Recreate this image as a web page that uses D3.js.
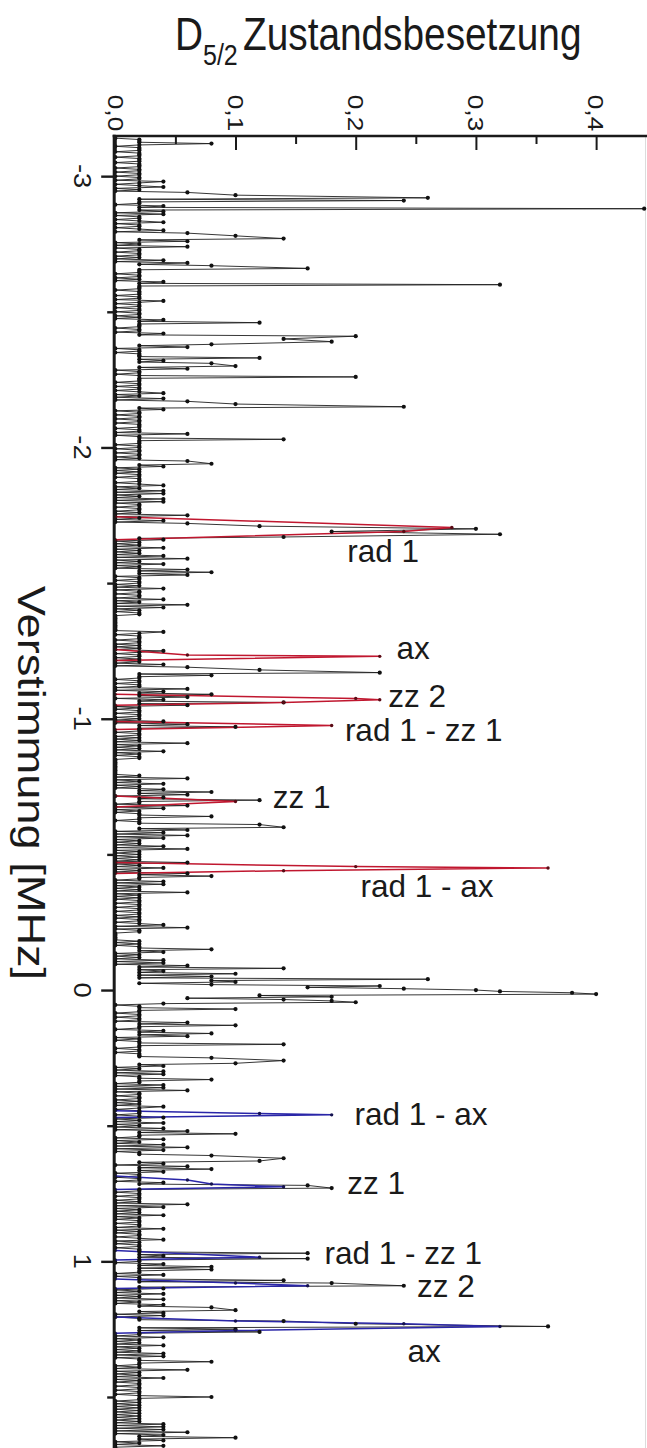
<!DOCTYPE html>
<html>
<head>
<meta charset="utf-8">
<script src="https://cdn.jsdelivr.net/npm/d3@7"></script>
<style>
  html, body { margin: 0; padding: 0; background: #fff; }
  svg { display: block; }
</style>
</head>
<body>
<svg id="chart" width="647" height="1448"></svg>
<script>
// Frequency scan of the S–D transition: [detuning in MHz, D5/2 population]
const scan = [
  [-3.14,0],[-3.135,0.02],[-3.13,0.02],[-3.125,0.02],[-3.12,0.08],[-3.115,0.02],[-3.11,0],[-3.105,0.02],
  [-3.10,0.02],[-3.095,0.02],[-3.09,0],[-3.085,0.02],[-3.08,0.02],[-3.075,0.02],[-3.07,0],[-3.065,0.02],[-3.06,0.02],[-3.055,0.02],[-3.05,0],[-3.045,0.02],[-3.04,0.02],[-3.035,0.02],[-3.03,0],[-3.025,0.02],[-3.02,0.02],[-3.015,0],[-3.01,0.02],[-3.005,0.02],
  [-3.00,0],[-2.995,0.02],[-2.99,0.02],[-2.985,0],[-2.98,0.04],[-2.975,0.02],[-2.97,0],[-2.965,0.02],[-2.96,0.04],[-2.955,0],[-2.95,0.02],[-2.945,0],[-2.94,0.06],[-2.93,0.1],[-2.92,0.26],[-2.915,0.02],[-2.91,0.24],[-2.905,0.02],
  [-2.90,0.02],[-2.895,0],[-2.89,0.04],[-2.885,0.02],[-2.88,0.44],[-2.875,0.02],[-2.87,0.04],[-2.865,0],[-2.86,0.04],[-2.855,0],[-2.85,0.02],[-2.845,0.02],[-2.84,0],[-2.835,0.02],[-2.83,0.04],[-2.825,0],[-2.82,0.02],[-2.815,0.02],[-2.81,0],[-2.805,0.02],
  [-2.80,0.04],[-2.795,0],[-2.79,0.06],[-2.78,0.1],[-2.77,0.14],[-2.765,0.02],[-2.76,0.06],[-2.755,0],[-2.75,0.02],[-2.745,0],[-2.74,0.06],[-2.735,0],[-2.73,0.02],[-2.725,0.02],[-2.72,0],[-2.715,0.02],[-2.71,0.02],[-2.705,0],
  [-2.70,0.02],[-2.695,0],[-2.69,0.04],[-2.685,0],[-2.68,0.06],[-2.675,0.02],[-2.67,0.08],[-2.66,0.16],[-2.655,0.02],[-2.65,0.02],[-2.645,0.02],[-2.64,0],[-2.635,0.02],[-2.63,0.02],[-2.625,0],[-2.62,0.02],[-2.615,0],[-2.61,0.04],[-2.605,0.02],
  [-2.60,0.32],[-2.595,0.02],[-2.59,0.02],[-2.585,0.02],[-2.58,0],[-2.575,0.02],[-2.57,0.02],[-2.565,0.02],[-2.56,0],[-2.555,0.02],[-2.55,0.02],[-2.545,0],[-2.54,0.04],[-2.535,0.02],[-2.53,0],[-2.525,0.02],[-2.52,0.02],[-2.515,0],[-2.51,0.02],[-2.505,0.02],
  [-2.50,0],[-2.495,0.02],[-2.49,0.02],[-2.485,0],[-2.48,0.02],[-2.475,0],[-2.47,0.04],[-2.465,0.02],[-2.46,0.12],[-2.455,0.02],[-2.45,0.02],[-2.445,0.02],[-2.44,0],[-2.435,0.02],[-2.43,0.02],[-2.425,0],[-2.42,0.04],[-2.415,0.02],[-2.41,0.2],
  [-2.40,0.14],[-2.39,0.18],[-2.38,0.08],[-2.375,0.02],[-2.37,0.06],[-2.365,0],[-2.36,0.02],[-2.355,0.02],[-2.35,0],[-2.345,0.02],[-2.34,0.02],[-2.335,0.02],[-2.33,0.12],[-2.325,0.02],[-2.32,0.04],[-2.315,0.02],[-2.31,0.08],
  [-2.30,0.1],[-2.295,0.02],[-2.29,0.06],[-2.285,0],[-2.28,0.02],[-2.275,0.02],[-2.27,0],[-2.265,0.02],[-2.26,0.2],[-2.255,0.02],[-2.25,0.02],[-2.245,0.02],[-2.24,0],[-2.235,0.02],[-2.23,0.02],[-2.225,0],[-2.22,0.02],[-2.215,0.02],[-2.21,0],[-2.205,0.02],
  [-2.20,0.04],[-2.195,0],[-2.19,0.02],[-2.185,0],[-2.18,0.04],[-2.175,0],[-2.17,0.06],[-2.16,0.1],[-2.15,0.24],[-2.145,0.02],[-2.14,0.04],[-2.135,0],[-2.13,0.02],[-2.125,0.02],[-2.12,0],[-2.115,0.02],[-2.11,0.02],[-2.105,0],
  [-2.10,0.02],[-2.095,0.02],[-2.09,0],[-2.085,0.02],[-2.08,0.02],[-2.075,0.02],[-2.07,0],[-2.065,0.02],[-2.06,0.02],[-2.055,0],[-2.05,0.06],[-2.045,0],[-2.04,0.02],[-2.035,0.02],[-2.03,0.14],[-2.025,0.02],[-2.02,0.02],[-2.015,0.02],[-2.01,0],[-2.005,0.02],
  [-2.00,0.02],[-1.995,0],[-1.99,0.02],[-1.985,0.02],[-1.98,0],[-1.975,0.02],[-1.97,0.02],[-1.965,0],[-1.96,0.02],[-1.955,0],[-1.95,0.06],[-1.94,0.08],[-1.935,0.02],[-1.93,0.04],[-1.925,0],[-1.92,0.02],[-1.915,0],[-1.91,0.02],[-1.905,0],
  [-1.90,0.02],[-1.895,0.02],[-1.89,0],[-1.885,0.02],[-1.88,0.02],[-1.875,0.02],[-1.87,0],[-1.865,0.02],[-1.86,0.04],[-1.855,0],[-1.85,0.02],[-1.845,0],[-1.84,0.04],[-1.835,0],[-1.83,0.04],[-1.825,0],[-1.82,0.02],[-1.815,0],[-1.81,0.04],[-1.805,0],
  [-1.80,0.04],[-1.795,0],[-1.79,0.02],[-1.785,0.02],[-1.78,0],[-1.775,0.02],[-1.77,0.02],[-1.765,0],[-1.76,0.02],[-1.755,0],[-1.75,0.06],[-1.745,0],[-1.74,0.02],[-1.735,0],[-1.73,0.04],[-1.725,0],[-1.72,0.06],[-1.71,0.12],
  [-1.70,0.3],[-1.69,0.18],[-1.68,0.32],[-1.67,0.14],[-1.665,0.02],[-1.66,0.04],[-1.655,0],[-1.65,0.02],[-1.645,0],[-1.64,0.02],[-1.635,0],[-1.63,0.04],[-1.625,0],[-1.62,0.02],[-1.615,0],[-1.61,0.02],[-1.605,0],
  [-1.60,0.04],[-1.595,0],[-1.59,0.06],[-1.585,0],[-1.58,0.02],[-1.575,0],[-1.57,0.04],[-1.565,0],[-1.56,0.02],[-1.555,0],[-1.55,0.06],[-1.545,0.02],[-1.54,0.08],[-1.535,0.02],[-1.53,0.06],[-1.525,0],[-1.52,0.02],[-1.515,0.02],[-1.51,0],[-1.505,0.02],
  [-1.50,0.02],[-1.495,0],[-1.49,0.02],[-1.485,0],[-1.48,0.04],[-1.475,0],[-1.47,0.02],[-1.465,0.02],[-1.46,0],[-1.455,0.02],[-1.45,0.02],[-1.445,0],[-1.44,0.04],[-1.435,0],[-1.43,0.02],[-1.425,0],[-1.42,0.06],[-1.415,0],[-1.41,0.04],[-1.405,0],
  [-1.40,0.02],[-1.395,0],[-1.39,0.02],[-1.385,0.02],[-1.38,0],[-1.375,0],[-1.37,0],[-1.365,0],[-1.36,0],[-1.355,0],[-1.35,0],[-1.345,0],[-1.34,0],[-1.335,0],[-1.33,0],[-1.325,0],[-1.32,0.04],[-1.315,0.02],[-1.31,0],[-1.305,0.02],
  [-1.30,0.02],[-1.295,0.02],[-1.29,0],[-1.285,0.02],[-1.28,0.02],[-1.275,0],[-1.27,0.02],[-1.265,0],[-1.26,0.02],[-1.255,0],[-1.25,0.04],[-1.245,0.02],[-1.24,0],[-1.235,0.02],[-1.23,0.02],[-1.225,0],[-1.22,0.02],[-1.215,0],[-1.21,0.02],[-1.205,0],
  [-1.20,0.04],[-1.195,0],[-1.19,0.06],[-1.18,0.12],[-1.17,0.22],[-1.165,0.02],[-1.16,0.08],[-1.155,0.02],[-1.15,0.02],[-1.145,0],[-1.14,0.02],[-1.135,0.02],[-1.13,0],[-1.125,0.02],[-1.12,0.02],[-1.115,0],[-1.11,0.06],[-1.105,0],
  [-1.10,0.04],[-1.095,0.02],[-1.09,0.08],[-1.085,0.02],[-1.08,0.06],[-1.075,0],[-1.07,0.04],[-1.065,0.02],[-1.06,0.14],[-1.055,0.02],[-1.05,0.06],[-1.045,0],[-1.04,0.02],[-1.035,0],[-1.03,0.02],[-1.025,0.02],[-1.02,0],[-1.015,0.02],[-1.01,0.02],[-1.005,0],
  [-1.00,0.02],[-0.995,0],[-0.99,0.04],[-0.985,0],[-0.98,0.06],[-0.975,0.02],[-0.97,0.1],[-0.965,0.02],[-0.96,0.02],[-0.955,0.02],[-0.95,0],[-0.945,0.02],[-0.94,0.02],[-0.935,0],[-0.93,0.02],[-0.925,0],[-0.92,0.02],[-0.915,0],[-0.91,0.06],[-0.905,0],
  [-0.90,0.02],[-0.895,0],[-0.89,0.02],[-0.885,0],[-0.88,0.04],[-0.875,0],[-0.87,0.02],[-0.865,0],[-0.86,0.02],[-0.855,0.02],[-0.85,0],[-0.845,0],[-0.84,0],[-0.835,0],[-0.83,0],[-0.825,0],[-0.82,0],[-0.815,0],[-0.81,0],[-0.805,0],
  [-0.80,0],[-0.795,0],[-0.79,0.02],[-0.785,0],[-0.78,0.06],[-0.775,0],[-0.77,0.02],[-0.765,0],[-0.76,0.04],[-0.755,0],[-0.75,0.02],[-0.745,0],[-0.74,0.04],[-0.735,0.02],[-0.73,0.08],[-0.725,0.02],[-0.72,0.06],[-0.715,0],[-0.71,0.04],[-0.705,0.02],
  [-0.70,0.12],[-0.695,0.02],[-0.69,0.02],[-0.685,0],[-0.68,0.06],[-0.675,0],[-0.67,0.04],[-0.665,0],[-0.66,0.02],[-0.655,0],[-0.65,0.02],[-0.645,0.02],[-0.64,0.08],[-0.635,0.02],[-0.63,0.02],[-0.625,0],[-0.62,0.02],[-0.615,0.02],[-0.61,0.12],
  [-0.60,0.14],[-0.595,0.02],[-0.59,0.06],[-0.585,0],[-0.58,0.04],[-0.575,0],[-0.57,0.06],[-0.565,0],[-0.56,0.04],[-0.555,0],[-0.55,0.02],[-0.545,0],[-0.54,0.02],[-0.535,0],[-0.53,0.04],[-0.525,0],[-0.52,0.06],[-0.515,0],[-0.51,0.02],[-0.505,0],
  [-0.50,0.02],[-0.495,0],[-0.49,0.02],[-0.485,0],[-0.48,0.02],[-0.475,0],[-0.47,0.06],[-0.465,0],[-0.46,0.02],[-0.455,0],[-0.45,0.04],[-0.445,0],[-0.44,0.02],[-0.435,0],[-0.43,0.06],[-0.425,0.02],[-0.42,0.08],[-0.415,0.02],[-0.41,0.02],[-0.405,0],
  [-0.40,0.04],[-0.395,0],[-0.39,0.04],[-0.385,0],[-0.38,0.02],[-0.375,0],[-0.37,0.02],[-0.365,0],[-0.36,0.06],[-0.355,0],[-0.35,0.02],[-0.345,0],[-0.34,0.02],[-0.335,0],[-0.33,0.02],[-0.325,0.02],[-0.32,0],[-0.315,0.02],[-0.31,0.02],[-0.305,0],
  [-0.30,0.02],[-0.295,0.02],[-0.29,0],[-0.285,0.02],[-0.28,0.02],[-0.275,0],[-0.27,0.02],[-0.265,0],[-0.26,0.02],[-0.255,0.02],[-0.25,0],[-0.245,0.02],[-0.24,0.04],[-0.235,0],[-0.23,0.06],[-0.225,0],[-0.22,0.02],[-0.215,0.02],[-0.21,0],[-0.205,0],
  [-0.20,0],[-0.195,0],[-0.19,0],[-0.185,0],[-0.18,0.02],[-0.175,0],[-0.17,0.02],[-0.165,0],[-0.16,0.02],[-0.155,0.02],[-0.15,0.08],[-0.145,0.02],[-0.14,0.04],[-0.135,0],[-0.13,0.02],[-0.125,0],[-0.12,0.02],[-0.115,0],[-0.11,0.04],[-0.105,0],
  [-0.10,0.04],[-0.095,0],[-0.09,0.06],[-0.085,0.02],[-0.08,0.14],[-0.075,0.02],[-0.07,0.04],[-0.065,0.02],[-0.06,0.1],[-0.055,0.02],[-0.05,0.08],[-0.045,0.02],
  [-0.04,0.26],[-0.035,0.08],[-0.03,0.1],[-0.025,0.02],[-0.02,0.08],[-0.015,0.22],[-0.01,0.16],[-0.005,0.24],[0,0.3],[0.005,0.32],
  [0.01,0.38],[0.015,0.4],[0.02,0.12],[0.025,0.18],[0.03,0.06],[0.035,0.14],[0.04,0.18],[0.045,0.2],
  [0.05,0.04],[0.055,0],[0.06,0.02],[0.065,0.02],[0.07,0.1],[0.075,0.02],[0.08,0.02],[0.085,0],[0.09,0.02],[0.095,0.02],[0.10,0],[0.105,0.02],[0.11,0.02],[0.115,0],[0.12,0.06],[0.125,0.02],[0.13,0.1],[0.135,0.02],[0.14,0.02],[0.145,0],
  [0.15,0.04],[0.155,0.02],[0.16,0.08],[0.165,0.02],[0.17,0.06],[0.175,0],[0.18,0.02],[0.185,0],[0.19,0.02],[0.195,0.02],[0.20,0.14],[0.205,0.02],[0.21,0.02],[0.215,0],[0.22,0.02],[0.225,0.02],[0.23,0],[0.235,0.02],[0.24,0.02],[0.245,0.02],
  [0.25,0.08],[0.26,0.14],[0.27,0.1],[0.275,0.02],[0.28,0.04],[0.285,0],[0.29,0.02],[0.295,0],[0.30,0.04],[0.305,0],[0.31,0.04],[0.315,0],[0.32,0.02],[0.325,0.02],[0.33,0.08],[0.335,0.02],[0.34,0.02],[0.345,0],
  [0.35,0.04],[0.355,0],[0.36,0.04],[0.365,0],[0.37,0.06],[0.375,0],[0.38,0.02],[0.385,0.02],[0.39,0],[0.395,0.02],[0.40,0.02],[0.405,0],[0.41,0.02],[0.415,0],[0.42,0.02],[0.425,0],[0.43,0.04],[0.435,0.02],[0.44,0],[0.445,0.02],
  [0.45,0.02],[0.455,0.02],[0.46,0],[0.465,0.02],[0.47,0.04],[0.475,0],[0.48,0.02],[0.485,0],[0.49,0.04],[0.495,0],[0.50,0.02],[0.505,0],[0.51,0.04],[0.515,0],[0.52,0.06],[0.525,0.02],[0.53,0.1],[0.535,0.02],[0.54,0.02],[0.545,0],
  [0.55,0.04],[0.555,0],[0.56,0.02],[0.565,0],[0.57,0.04],[0.575,0],[0.58,0.06],[0.585,0],[0.59,0.04],[0.595,0],[0.60,0.02],[0.605,0.02],[0.61,0.08],[0.62,0.14],[0.63,0.12],[0.635,0.02],[0.64,0.04],[0.645,0],
  [0.65,0.06],[0.655,0.02],[0.66,0.08],[0.665,0.02],[0.67,0.04],[0.675,0],[0.68,0.02],[0.685,0.02],[0.69,0],[0.695,0.02],[0.70,0.02],[0.705,0],[0.71,0.04],[0.715,0.02],[0.72,0.16],[0.73,0.18],[0.735,0.02],[0.74,0.02],[0.745,0],
  [0.75,0.02],[0.755,0.02],[0.76,0],[0.765,0.02],[0.77,0.02],[0.775,0],[0.78,0.02],[0.785,0],[0.79,0.06],[0.795,0],[0.80,0.04],[0.805,0],[0.81,0.02],[0.815,0],[0.82,0.02],[0.825,0],[0.83,0.04],[0.835,0],[0.84,0.02],[0.845,0],
  [0.85,0.02],[0.855,0.02],[0.86,0],[0.865,0.02],[0.87,0.02],[0.875,0],[0.88,0.04],[0.885,0],[0.89,0.02],[0.895,0],[0.90,0.02],[0.905,0.02],[0.91,0],[0.915,0.02],[0.92,0.04],[0.925,0],[0.93,0.02],[0.935,0],[0.94,0.02],[0.945,0.02],
  [0.95,0],[0.955,0.02],[0.96,0.02],[0.965,0.02],[0.97,0.16],[0.975,0.02],[0.98,0.04],[0.985,0.02],[0.99,0.16],[0.995,0.02],[1.00,0.02],[1.005,0],[1.01,0.04],[1.015,0.02],[1.02,0.08],[1.025,0.02],[1.03,0.08],[1.035,0.02],[1.04,0.02],[1.045,0],
  [1.05,0.04],[1.055,0],[1.06,0.02],[1.065,0.02],[1.07,0.14],[1.075,0.02],[1.08,0.18],[1.09,0.24],[1.095,0.02],[1.10,0.04],[1.105,0],[1.11,0.02],[1.115,0],[1.12,0.04],[1.125,0],[1.13,0.02],[1.135,0],[1.14,0.04],[1.145,0],
  [1.15,0.02],[1.155,0],[1.16,0.04],[1.165,0.02],[1.17,0.08],[1.18,0.1],[1.185,0.02],[1.19,0.04],[1.195,0],[1.20,0.04],[1.205,0],[1.21,0.02],[1.215,0.02],[1.22,0.14],[1.23,0.2],[1.24,0.36],[1.245,0.02],
  [1.25,0.1],[1.255,0.02],[1.26,0.12],[1.265,0.02],[1.27,0.02],[1.275,0],[1.28,0.04],[1.285,0],[1.29,0.02],[1.295,0],[1.30,0.02],[1.305,0],[1.31,0.04],[1.315,0],[1.32,0.02],[1.325,0],[1.33,0.02],[1.335,0],[1.34,0.04],[1.345,0],
  [1.35,0.04],[1.355,0],[1.36,0.02],[1.365,0.02],[1.37,0.08],[1.375,0.02],[1.38,0.02],[1.385,0],[1.39,0.02],[1.395,0],[1.40,0.06],[1.405,0],[1.41,0.02],[1.415,0],[1.42,0.02],[1.425,0],[1.43,0.04],[1.435,0],[1.44,0.02],[1.445,0],
  [1.45,0.02],[1.455,0.02],[1.46,0],[1.465,0.02],[1.47,0.02],[1.475,0],[1.48,0.02],[1.485,0.02],[1.49,0],[1.495,0.02],[1.50,0.08],[1.505,0.02],[1.51,0.02],[1.515,0],[1.52,0.02],[1.525,0],[1.53,0.02],[1.535,0],[1.54,0.02],[1.545,0],
  [1.55,0.02],[1.555,0],[1.56,0.02],[1.565,0],[1.57,0.02],[1.575,0],[1.58,0.02],[1.585,0],[1.59,0.02],[1.595,0],[1.60,0.04],[1.605,0],[1.61,0.04],[1.615,0],[1.62,0.04],[1.625,0],[1.63,0.06],[1.635,0],[1.64,0.04],[1.645,0.02],
  [1.65,0.1],[1.655,0.02],[1.66,0.04],[1.665,0],[1.67,0.02],[1.675,0],[1.68,0.04],[1.685,0]
];

// Fine scans over the red sideband resonances
const redScans = [
  [[-1.745,0],[-1.705,0.28],[-1.69,0.24],[-1.66,0]],
  [[-1.255,0],[-1.235,0.06],[-1.23,0.22],[-1.215,0]],
  [[-1.09,0],[-1.075,0.2],[-1.07,0.22],[-1.06,0.14],[-1.05,0]],
  [[-0.99,0],[-0.975,0.18],[-0.96,0]],
  [[-0.715,0],[-0.695,0.1],[-0.675,0]],
  [[-0.47,0],[-0.455,0.2],[-0.45,0.36],[-0.44,0.14],[-0.43,0]]
];

// Fine scans over the blue sideband resonances
const blueScans = [
  [[0.445,0],[0.455,0.12],[0.46,0.18],[0.47,0]],
  [[0.685,0],[0.70,0.06],[0.715,0.08],[0.725,0.14],[0.735,0]],
  [[0.96,0],[0.985,0.12],[0.995,0]],
  [[1.065,0],[1.08,0.1],[1.09,0.16],[1.10,0]],
  [[1.205,0],[1.22,0.1],[1.23,0.24],[1.24,0.32],[1.255,0.1],[1.265,0]]
];

// Sideband names, anchored at [detuning of baseline, population of left edge]
const sidebandNames = ["rad 1", "ax", "zz 2", "rad 1 - zz 1", "zz 1", "rad 1 - ax",
                       "rad 1 - ax", "zz 1", "rad 1 - zz 1", "zz 2", "ax"];
const sidebandAnchors = [[-1.578,0.193],[-1.220,0.234],[-1.043,0.227],[-0.918,0.191],[-0.671,0.131],[-0.343,0.204],
                         [0.498,0.199],[0.752,0.193],[1.010,0.174],[1.132,0.251],[1.371,0.243]];

const populationTicks = [0, 0.1, 0.2, 0.3, 0.4];
const populationMinorTicks = [0.05, 0.15, 0.25, 0.35];
const detuningTicks = [-3, -2, -1, 0, 1];
const detuningMinorTicks = [-2.5, -1.5, -0.5, 0.5, 1.5];

const svg = d3.select("#chart");
const font = "'Liberation Sans', Arial, Helvetica, sans-serif";
const ink = "#1a1a1a";
const stretch = 1.19;          // lettering is drawn slightly tall, as in the printed figure

// Detuning runs down the page, population to the right
const y = d3.scaleLinear().domain([-3.148, 1.688]).range([136, 1448]);
const x = d3.scaleLinear().domain([0, 0.442]).range([115.3, 646.6]);

const locale = d3.formatLocale({decimal: ",", thousands: ".", grouping: [3], currency: ["", " €"], minus: "-"});
const fmtPop = locale.format(".1f");
const fmtDet = locale.format("d");

svg.append("rect").attr("width", 647).attr("height", 1448).attr("fill", "#fff");

// faint right edge of the plot box
svg.append("line")
  .attr("x1", 645.5).attr("x2", 645.5).attr("y1", y.range()[0]).attr("y2", y.range()[1])
  .attr("stroke", "#dcdcdc").attr("stroke-width", 1);

const line = d3.line().x(d => x(d[1])).y(d => y(d[0]));

// main scan
svg.append("path").datum(scan)
  .attr("d", line).attr("fill", "none")
  .attr("stroke", "#202020").attr("stroke-width", 0.9).attr("stroke-linejoin", "round");

// sideband fine scans
svg.append("g").selectAll("path").data(redScans).join("path")
  .attr("d", line).attr("fill", "none")
  .attr("stroke", "#c0172f").attr("stroke-width", 1.5).attr("stroke-linejoin", "round");
svg.append("g").selectAll("path").data(blueScans).join("path")
  .attr("d", line).attr("fill", "none")
  .attr("stroke", "#2a26a8").attr("stroke-width", 1.5).attr("stroke-linejoin", "round");

// markers
svg.append("g").selectAll("circle").data(scan).join("circle")
  .attr("cx", d => x(d[1])).attr("cy", d => y(d[0])).attr("r", 2.1).attr("fill", "#111");
svg.append("g").selectAll("circle").data(redScans.flat()).join("circle")
  .attr("cx", d => x(d[1])).attr("cy", d => y(d[0])).attr("r", 1.7).attr("fill", "#5a0a14");
svg.append("g").selectAll("circle").data(blueScans.flat()).join("circle")
  .attr("cx", d => x(d[1])).attr("cy", d => y(d[0])).attr("r", 1.7).attr("fill", "#14124f");

// top axis (population), ticks pointing into the plot
const topY = y.range()[0];
svg.append("g").attr("transform", `translate(0,${topY})`)
  .call(d3.axisTop(x).tickValues(populationTicks).tickSizeInner(-14).tickSizeOuter(0).tickFormat(""))
  .call(g => g.select(".domain").remove())
  .call(g => g.selectAll(".tick line").attr("stroke", ink).attr("stroke-width", 2));
svg.append("g").attr("transform", `translate(0,${topY})`)
  .call(d3.axisTop(x).tickValues(populationMinorTicks).tickSizeInner(-8).tickSizeOuter(0).tickFormat(""))
  .call(g => g.select(".domain").remove())
  .call(g => g.selectAll(".tick line").attr("stroke", ink).attr("stroke-width", 2));

// left axis (detuning), ticks pointing outward
const leftX = 114.2;
svg.append("g").attr("transform", `translate(${leftX},0)`)
  .call(d3.axisLeft(y).tickValues(detuningTicks).tickSizeInner(13).tickSizeOuter(0).tickFormat(""))
  .call(g => g.select(".domain").remove())
  .call(g => g.selectAll(".tick line").attr("stroke", ink).attr("stroke-width", 2.4));
svg.append("g").attr("transform", `translate(${leftX},0)`)
  .call(d3.axisLeft(y).tickValues(detuningMinorTicks).tickSizeInner(7).tickSizeOuter(0).tickFormat(""))
  .call(g => g.select(".domain").remove())
  .call(g => g.selectAll(".tick line").attr("stroke", ink).attr("stroke-width", 2.4));

// spines
svg.append("line").attr("x1", leftX - 1.5).attr("x2", 647).attr("y1", topY).attr("y2", topY)
  .attr("stroke", ink).attr("stroke-width", 2.6);
svg.append("line").attr("x1", leftX).attr("x2", leftX).attr("y1", topY - 1.3).attr("y2", y.range()[1])
  .attr("stroke", ink).attr("stroke-width", 3);

// tick labels, turned a quarter clockwise
svg.append("g").selectAll("text").data(populationTicks).join("text")
  .attr("transform", d => `translate(${x(d)},113) scale(1,${stretch}) rotate(90)`)
  .attr("text-anchor", "middle").attr("dy", "0.35em")
  .attr("font-family", font).attr("font-size", 22).attr("fill", ink)
  .text(fmtPop);
svg.append("g").selectAll("text").data(detuningTicks).join("text")
  .attr("transform", d => `translate(82,${y(d)}) scale(1,${stretch}) rotate(90)`)
  .attr("text-anchor", "middle").attr("dy", "0.35em")
  .attr("font-family", font).attr("font-size", 23).attr("fill", ink)
  .text(fmtDet);

// axis titles
const title = svg.append("text")
  .attr("transform", `translate(0,50) scale(1,${stretch})`)
  .attr("font-family", font).attr("font-size", 38.8).attr("fill", ink);
title.append("tspan").attr("x", 175).text("D");
title.append("tspan").attr("font-size", 25).attr("dy", 12.6).text("5/2");
title.append("tspan").attr("x", 243).attr("dy", -12.6).text("Zustandsbesetzung");

svg.append("text")
  .attr("transform", `translate(31,783) scale(1,${stretch}) rotate(90)`)
  .attr("text-anchor", "middle").attr("dy", "0.35em")
  .attr("font-family", font).attr("font-size", 38).attr("fill", ink)
  .text("Verstimmung [MHz]");

// sideband names
svg.append("g").selectAll("text").data(sidebandNames).join("text")
  .attr("x", (d, i) => x(sidebandAnchors[i][1]))
  .attr("y", (d, i) => y(sidebandAnchors[i][0]))
  .attr("font-family", font).attr("font-size", 31.5).attr("fill", ink)
  .text(d => d);
</script>
</body>
</html>
